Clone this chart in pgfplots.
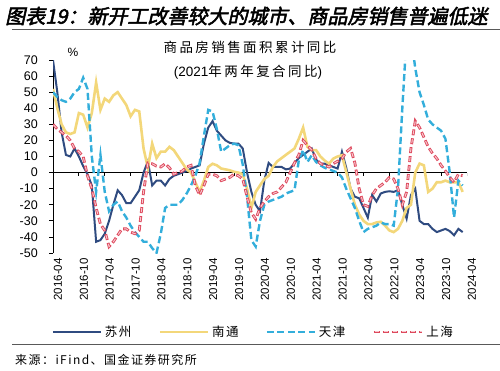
\documentclass[border=0pt]{standalone}
\usepackage{fontspec}
\setmainfont{Liberation Sans}
\newfontfamily\cjk{Noto Sans CJK SC}
\newfontfamily\cjksp{Noto Sans CJK SC}[LetterSpace=18]
\newfontfamily\cjkleg{Noto Sans CJK SC}[LetterSpace=12]
\newfontfamily\cjktitle{Noto Sans CJK SC}[FakeSlant=0.22,FakeBold=2.5]
\usepackage{pgfplots}
\pgfplotsset{compat=1.18}
\definecolor{szc}{HTML}{2F4B80}
\definecolor{ntc}{HTML}{F3D77A}
\definecolor{tjc}{HTML}{33AEDB}
\definecolor{shc}{HTML}{DE4A5E}
\definecolor{shp}{HTML}{F7C6CD}
\pgfplotstableread{
x y
0 30
1 27
2 25
3 23
4 20
5 15
6 13
7 10
8 -2
9 -10
10 -22
11 -32
12 -36
13 -46
14 -43
15 -39
16 -35
17 -35
18 -37
19 -38
20 -36
21 -12
22 6
23 5.5
24 4
25 3.5
26 5.5
27 3
28 -1
29 0
30 1
31 3.5
32 4.5
33 -8
34 -14
35 -8
36 -1
37 -1
38 -2
39 -5
40 -4
41 -3
42 -1
43 -2
44 -4
45 -15
46 -25
47 -29
48 -22
49 -18
50 -15
51 -13
52 -12
53 -9
54 -6
55 0
56 6
57 11
58 20
59 17
60 14
61 8.7
62 5.6
63 4.5
64 3.5
65 5.6
66 7
67 8.7
68 12.8
69 15
70 6
71 -10
72 -20
73 -21
74 -14
75 -10
76 -8
77 -6
78 -3
79 -4
80 -10
81 -20
82 -12
83 15
84 32
85 28
86 22
87 16
88 12
89 8.7
90 4.5
91 1
92 -3
93 -6
94 -1
95 -2
}\shanghai
\begin{document}
\begin{tikzpicture}
\path[use as bounding box] (0,0) rectangle (500pt,370pt);
\node[anchor=west,inner sep=0pt] at (5pt,354pt) {\cjktitle\fontsize{20}{20}\selectfont 图表19：新开工改善较大的城市、商品房销售普遍低迷};
\draw[black!65, line width=1pt] (12pt,340pt) -- (500pt,340pt);
\node[inner sep=0pt] at (250pt,323pt) {\cjksp\fontsize{13.5}{14}\selectfont 商品房销售面积累计同比};
\node[inner sep=0pt] at (248pt,298pt) {\fontsize{13.5}{14}\selectfont (2021{\cjksp 年两年复合同比})};
\node[inner sep=0pt] at (73pt,318pt) {\fontsize{12}{12}\selectfont \%};
\draw[black!65, line width=1pt] (12pt,26pt) -- (500pt,26pt);
\node[anchor=west,inner sep=0pt] at (15pt,10pt) {\cjkleg\fontsize{12}{12}\selectfont 来源：iFind、国金证券研究所};
\begin{axis}[
  at={(53pt,117pt)}, anchor=south west,
  width=414pt, height=193pt, scale only axis,
  xmin=0, xmax=96, ymin=-50, ymax=70,
  axis y line*=left, axis x line*=bottom,
  x axis line style={draw=none},
  y axis line style={black, line width=1pt},
  xtick={0,6,...,96},
  xticklabels={2016-04,2016-10,2017-04,2017-10,2018-04,2018-10,2019-04,2019-10,2020-04,2020-10,2021-04,2021-10,2022-04,2022-10,2023-04,2023-10,2024-04},
  xtick style={draw=none},
  ytick={-50,-40,...,70},
  ytick style={black, line width=0.8pt},
  tick align=outside, major tick length=4pt,
  xticklabel style={rotate=90, anchor=east, font=\fontsize{11.5}{11.5}\selectfont, inner sep=1pt, yshift=-5pt},
  yticklabel style={font=\fontsize{12.5}{12.5}\selectfont, inner sep=1pt, xshift=-10pt},
  /pgf/number format/assume math mode=true,
  legend columns=4,
  legend cell align=left,
  legend style={draw=none, fill=none, at={(0.484,-0.409)}, anchor=center,
    font=\cjkleg\fontsize{12.5}{12.5}\selectfont,
    /tikz/every even column/.append style={column sep=25pt},
    /tikz/every odd column/.append style={column sep=1pt}},
  legend image code/.code={\draw[#1] (0pt,0pt) -- (48pt,0pt);},
]
\addplot[black, line width=1pt, forget plot] coordinates {(0,0) (96,0)};
\pgfplotsinvokeforeach{0,6,...,96}{\draw[black, line width=0.8pt] (axis cs:#1,0) -- ([yshift=-3.5pt]axis cs:#1,0);}
% Suzhou
\addplot[szc, line width=2pt] coordinates {
(0,70)(1,50)(2,25)(3,11)(4,10)(5,15)(6,10)(7,4)(8,-1)(9,-8)(10,-43)(11,-42)(12,-38)(13,-30)(14,-20)(15,-11)(16,-14)(17,-19)(18,-19)(19,-15)(20,-11)(21,0)(22,7)(23,-8)(24,-5)(25,-5)(26,-8)(27,-4)(28,-2)(29,-1)(30,0)(31,1)(32,2.5)(33,3.5)(34,4.5)(35,18)(36,28)(37,32)(38,26)(39,23)(40,20)(41,18.5)(42,18)(43,18)(44,15)(45,0)(46,-12)(47,-20)(48,-24)(49,-5)(50,6)(51,3.5)(52,3.5)(53,3.5)(54,2)(55,2.5)(56,6)(57,9)(58,11)(59,13)(60,15)(61,8)(62,5.5)(63,5.5)(64,4.5)(65,3.5)(66,2.5)(67,13)(68,3)(69,-10)(70,-15)(71,-16)(72,-22)(73,-28)(74,-14)(75,-18)(76,-13)(77,-12)(78,-11.6)(79,-12)(80,-11)(81,-20)(82,-28.6)(83,-14)(84,-10)(85,-30)(86,-32)(87,-32)(88,-35)(89,-37)(90,-36)(91,-35)(92,-36.4)(93,-39)(94,-35)(95,-37)
};
\addlegendentry{苏州}
% Nantong
\addplot[ntc, line width=2.6pt] coordinates {
(0,52)(1,40)(2,30)(3,25)(4,24)(5,25)(6,37)(7,36)(8,28)(9,37)(10,56)(11,39)(12,46)(13,44)(14,48)(15,50)(16,46)(17,42)(18,35)(19,39)(20,38)(21,15)(22,3)(23,18)(24,9)(25,13)(26,13)(27,16)(28,14)(29,10)(30,6)(31,2)(32,0)(33,-6)(34,-12)(35,-5)(36,3.5)(37,5.5)(38,4.5)(39,2.5)(40,2)(41,1.4)(42,0.5)(43,0)(44,-1)(45,-10)(46,-22)(47,-12)(48,-8)(49,-4)(50,-2)(51,3.5)(52,7)(53,9)(54,11)(55,13)(56,15)(57,21)(58,28)(59,16)(60,14)(61,14)(62,10)(63,7.5)(64,5.5)(65,8.7)(66,10)(67,10.8)(68,0.4)(69,-10)(70,-20)(71,-26)(72,-30)(73,-32)(74,-32)(75,-31)(76,-30.6)(77,-33)(78,-36)(79,-37)(80,-35)(81,-30)(82,-22)(83,-20)(84,0)(85,5.6)(86,4.5)(87,-12)(88,-10)(89,-6)(90,-6)(91,-5)(92,-6)(93,-6)(94,-6)(95,-12)
};
\addlegendentry{南通}
% Tianjin
\addplot[tjc, line width=2.4pt, dash pattern=on 7pt off 3.5pt] coordinates {
(0,50)(1,47)(2,45)(3,44)(4,46)(5,50)(6,52)(7,59)(8,52)(9,10)(10,-12)(11,11)(12,-12)(13,-24)(14,-20)(15,-18)(16,-24)(17,-28)(18,-33)(19,-37)(20,-40)(21,-43)(22,-43)(23,-47)(24,-50)(25,-38)(26,-22)(27,-20)(28,-20)(29,-20)(30,-17)(31,-13)(32,-8)(33,-2)(34,6)(35,23)(36,39)(37,38)(38,27)(39,13)(40,15)(41,17)(42,18)(43,17)(44,5)(45,-15)(46,-42)(47,-46)(48,-30)(49,-20)(50,-18)(51,-17)(52,-16)(53,-15)(54,-13)(55,-12)(56,-11)(57,7.7)(58,14)(59,6.6)(60,10.8)(61,6.6)(62,4.5)(63,3)(64,2)(65,1)(66,0)(67,-3)(68,-10)(69,-16)(70,-22)(71,-30)(72,-37)(73,-35)(74,-34)(75,-33)(76,-31)(77,-32)(78,-32)(79,-33)(80,-10)(81,40)(82,85)(83,85)(84,65)(85,50)(86,42)(87,33)(88,30)(89,28)(90,26)(91,21)(92,0)(93,-28)(94,-5)(95,-8)
};
\addlegendentry{天津}
% Shanghai
\addplot[shc, line width=2.8pt, dash pattern=on 6pt off 3pt,
  postaction={draw=shp, line width=1pt, dash pattern=on 4pt off 5pt, dash phase=8pt}] table {\shanghai};
\addlegendentry{上海}
\end{axis}
\end{tikzpicture}
\end{document}
